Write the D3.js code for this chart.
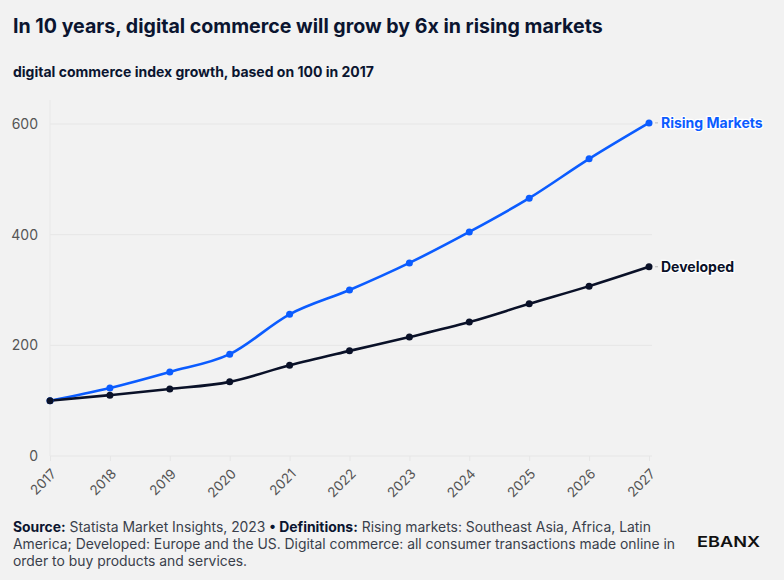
<!DOCTYPE html>
<html><head><meta charset="utf-8">
<script src="https://cdn.jsdelivr.net/npm/d3@7"></script>
<style>
html,body{margin:0;padding:0;background:#f2f2f2;}
svg{display:block;font-family:Inter, "Noto Sans", sans-serif;}
</style></head><body>
<svg id="c" width="784" height="580"></svg>
<script>
const years = [2017,2018,2019,2020,2021,2022,2023,2024,2025,2026,2027];
const rising = [100,123,152,184,256,300,349,405,466,537,602];
const developed = [100,110,121,134,164,190,215,242,275,307,342];
const yTicks = [0,200,400,600];
const seriesNames = ["Rising Markets","Developed"];
const colors = ["#0b5cff","#0a1128"];

const svg = d3.select("#c");
svg.append("rect").attr("width",784).attr("height",580).attr("fill","#f2f2f2");

svg.append("text").attr("x",13).attr("y",33).attr("font-size",19.6).attr("font-weight",650)
  .attr("fill","#0b1530").text("In 10 years, digital commerce will grow by 6x in rising markets");
svg.append("text").attr("x",13).attr("y",77).attr("font-size",14).attr("font-weight",650)
  .attr("fill","#0b1530").text("digital commerce index growth, based on 100 in 2017");

const x = d3.scalePoint().domain(years).range([50,649]);
const y = d3.scaleLinear().domain([0,600]).range([456,124]);

// gridlines
const g = svg.append("g");
g.selectAll("line.h").data(yTicks).join("line")
  .attr("x1",50).attr("x2",652).attr("y1",d=>y(d)).attr("y2",d=>y(d))
  .attr("stroke","#e6e6e6").attr("stroke-width",1);
g.append("line").attr("x1",50).attr("x2",50).attr("y1",100).attr("y2",456).attr("stroke","#e8e8e8");

// y axis
const yAxis = d3.axisLeft(y).tickValues(yTicks).tickSize(0).tickPadding(0);
svg.append("g").attr("transform","translate(38,0)").call(yAxis)
  .call(s=>s.select(".domain").remove())
  .call(s=>s.selectAll("text").attr("font-size",14).attr("fill","#555").attr("font-family","Inter, sans-serif"));

// x axis
const xAxis = d3.axisBottom(x).tickSize(5).tickPadding(4);
svg.append("g").attr("transform","translate(0,456)").call(xAxis)
  .call(s=>s.select(".domain").remove())
  .call(s=>s.selectAll("line").attr("stroke","#e6e6e6"))
  .call(s=>s.selectAll("text").attr("font-size",13.5).attr("fill","#555").attr("font-family","Inter, sans-serif")
    .attr("text-anchor","end").attr("dy","0.35em").attr("transform","translate(-3,9) rotate(-45)"));

const data = [rising, developed];
const line = d3.line().x((d,i)=>x(years[i])).y(d=>y(d)).curve(d3.curveMonotoneX);

[0,1].forEach(k=>{
  svg.append("path").datum(data[k]).attr("d",line).attr("fill","none")
    .attr("stroke",colors[k]).attr("stroke-width",2.6).attr("stroke-linejoin","round");
});
[0,1].forEach(k=>{
  svg.append("g").selectAll("circle").data(data[k]).join("circle")
    .attr("cx",(d,i)=>x(years[i])).attr("cy",d=>y(d)).attr("r",3.5).attr("fill",colors[k]);
  const last = data[k][data[k].length-1];
  const lx = x(years[years.length-1]);
  svg.append("line").attr("x1",lx+6).attr("x2",lx+9).attr("y1",y(last)).attr("y2",y(last))
    .attr("stroke","#bbb").attr("stroke-width",1);
  svg.append("text").attr("x",lx+12).attr("y",y(last)).attr("dy","0.35em")
    .attr("font-size",14).attr("font-weight",700).attr("fill",colors[k])
    .attr("stroke","#ffffff").attr("stroke-width",2.5).attr("paint-order","stroke")
    .text(seriesNames[k]);
});

// footer
const foot = svg.append("g").attr("font-size",13.9).attr("fill","#3a3f4b");
const t1 = foot.append("text").attr("x",13).attr("y",532);
t1.append("tspan").attr("font-weight",700).attr("fill","#0b1530").text("Source:");
t1.append("tspan").text(" Statista Market Insights, 2023 ");
t1.append("tspan").attr("font-weight",700).attr("fill","#0b1530").text("• Definitions:");
t1.append("tspan").text(" Rising markets: Southeast Asia, Africa, Latin");
foot.append("text").attr("x",13).attr("y",549).text("America; Developed: Europe and the US. Digital commerce: all consumer transactions made online in");
foot.append("text").attr("x",13).attr("y",566).text("order to buy products and services.");

// logo
svg.append("text").attr("x",697).attr("y",547).attr("font-size",15).attr("font-weight",600)
  .attr("fill","#111").attr("textLength",63).attr("lengthAdjust","spacingAndGlyphs")
  .text("EBANX");
</script>
</body></html>
